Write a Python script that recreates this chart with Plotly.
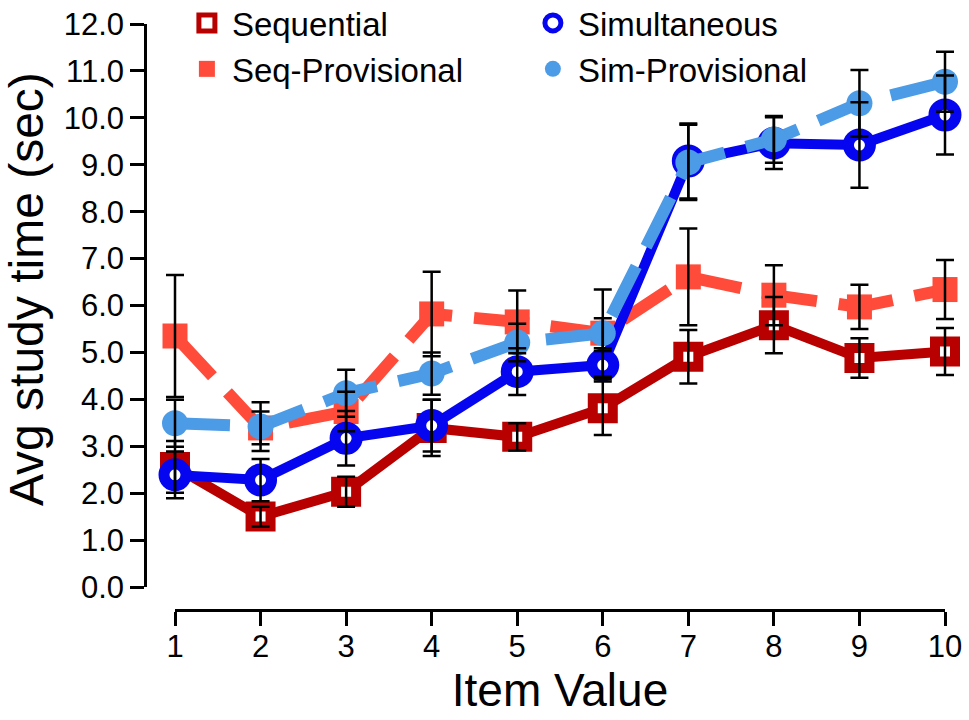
import plotly.graph_objects as go

# ---------------- data ----------------
item_value = [1, 2, 3, 4, 5, 6, 7, 8, 9, 10]

seq_mean = [2.56, 1.50, 2.03, 3.39, 3.20, 3.81, 4.91, 5.58, 4.88, 5.02]
seq_err = [0.55, 0.21, 0.32, 0.60, 0.29, 0.57, 0.57, 0.60, 0.42, 0.50]

sim_mean = [2.39, 2.28, 3.17, 3.44, 4.59, 4.73, 9.08, 9.46, 9.42, 10.06]
sim_err = [0.50, 0.45, 0.58, 0.55, 0.50, 0.30, 0.80, 0.55, 0.91, 0.84]

seqprov_mean = [5.35, 3.39, 3.74, 5.82, 5.65, 5.41, 6.61, 6.22, 5.97, 6.34]
seqprov_err = [1.30, 0.35, 0.42, 0.90, 0.67, 0.93, 1.03, 0.64, 0.47, 0.63]

simprov_mean = [3.49, 3.42, 4.13, 4.55, 5.21, 5.41, 9.05, 9.54, 10.31, 10.77]
simprov_err = [0.50, 0.52, 0.50, 0.45, 0.40, 0.32, 0.80, 0.50, 0.71, 0.64]

y_tick_vals = [0, 1, 2, 3, 4, 5, 6, 7, 8, 9, 10, 11, 12]
y_tick_text = ["%.1f" % v for v in y_tick_vals]
x_tick_vals = item_value

series_names = ["Sequential", "Simultaneous", "Seq-Provisional", "Sim-Provisional"]

# ---------------- styles ----------------
RED = "#B80000"
BLUE = "#0505F0"
ORANGE = "#FF4B3A"
LBLUE = "#4B9BE6"
FONT = "Liberation Sans, Arial, Helvetica, sans-serif"

# plot area: px 145..965 (x), 10..610 (y); axis spans x 1..10 -> px 175..945, y 0..12 -> px 587..24
X_DOMAIN = [30 / 820, 800 / 820]
Y_DOMAIN = [23 / 600, 586 / 600]
XPAD_LO, XPAD_HI = 30 / (770 / 9), 20 / (770 / 9)
YPAD_LO, YPAD_HI = 23 / (563 / 12), 14 / (563 / 12)

fig = go.Figure()

# drawing order (bottom -> top): Sequential, Seq-Prov, Simultaneous, Sim-Prov
fig.add_trace(go.Scatter(
    x=item_value, y=seq_mean, mode="lines+markers", showlegend=False,
    line=dict(color=RED, width=10),
    marker=dict(symbol="square", size=20, color="white", line=dict(color=RED, width=10)),
    cliponaxis=False, hoverinfo="skip"))
fig.add_trace(go.Scatter(
    x=item_value, y=seqprov_mean, mode="lines+markers", showlegend=False,
    line=dict(color=ORANGE, width=12, dash="55px,22px"),
    marker=dict(symbol="square", size=25, color=ORANGE, line=dict(width=0)),
    cliponaxis=False, hoverinfo="skip"))
fig.add_trace(go.Scatter(
    x=item_value, y=sim_mean, mode="lines+markers", showlegend=False,
    line=dict(color=BLUE, width=10),
    marker=dict(symbol="circle", size=22, color="white", line=dict(color=BLUE, width=11)),
    cliponaxis=False, hoverinfo="skip"))
fig.add_trace(go.Scatter(
    x=item_value, y=simprov_mean, mode="lines+markers", showlegend=False,
    line=dict(color=LBLUE, width=12, dash="55px,22px"),
    marker=dict(symbol="circle", size=26, color=LBLUE, line=dict(width=0)),
    cliponaxis=False, hoverinfo="skip"))

# error bars on top of everything
for mean, err in [(seq_mean, seq_err), (seqprov_mean, seqprov_err),
                  (sim_mean, sim_err), (simprov_mean, simprov_err)]:
    fig.add_trace(go.Scatter(
        x=item_value, y=mean, mode="markers", showlegend=False,
        marker=dict(size=1, color="rgba(0,0,0,0)"),
        error_y=dict(type="data", array=err, visible=True, color="black",
                     thickness=2.5, width=9),
        cliponaxis=False, hoverinfo="skip"))

# invisible trace that carries the detached (R-style) display axes
fig.add_trace(go.Scatter(x=[item_value[0]], y=[y_tick_vals[0]], xaxis="x2", yaxis="y2",
                         mode="markers", marker=dict(size=1, color="rgba(0,0,0,0)"),
                         showlegend=False, hoverinfo="skip"))

# legend-only entries (markers only, like the reference)
legend_specs = [
    (series_names[0], dict(symbol="square", size=16, color="white", line=dict(color=RED, width=5))),
    (series_names[1], dict(symbol="circle", size=16, color="white", line=dict(color=BLUE, width=5))),
    (series_names[2], dict(symbol="square", size=16, color=ORANGE, line=dict(width=0))),
    (series_names[3], dict(symbol="circle", size=16, color=LBLUE, line=dict(width=0))),
]
for rank, (name, mk) in enumerate(legend_specs):
    fig.add_trace(go.Scatter(x=[None], y=[None], mode="markers", name=name,
                             marker=mk, legendrank=rank + 1))

axis_common = dict(
    showline=True, linecolor="black", linewidth=2.5,
    ticks="outside", ticklen=14, tickwidth=2.5, tickcolor="black",
    showgrid=False, zeroline=False, automargin=False,
    tickfont=dict(family=FONT, size=31, color="black"),
    anchor="free", position=0,
)

fig.update_layout(
    width=969, height=720,
    margin=dict(l=145, r=4, t=10, b=110, autoexpand=False),
    plot_bgcolor="rgba(0,0,0,0)", paper_bgcolor="white",
    font=dict(family=FONT, color="black"),
    xaxis=dict(domain=[0, 1], range=[item_value[0] - XPAD_LO, item_value[-1] + XPAD_HI],
               visible=False, fixedrange=True),
    yaxis=dict(domain=[0, 1], range=[y_tick_vals[0] - YPAD_LO, y_tick_vals[-1] + YPAD_HI],
               visible=False, fixedrange=True),
    xaxis2=dict(domain=X_DOMAIN, range=[item_value[0], item_value[-1]],
                tickvals=x_tick_vals, ticklabelstandoff=-6,
                title=dict(text="Item Value", font=dict(family=FONT, size=46), standoff=8),
                **axis_common),
    yaxis2=dict(domain=Y_DOMAIN, range=[y_tick_vals[0], y_tick_vals[-1]],
                tickvals=y_tick_vals, ticktext=y_tick_text, ticksuffix="\u2002",
                **axis_common),
    legend=dict(orientation="h", x=0.045, y=1.025, xanchor="left", yanchor="top",
                entrywidth=291, font=dict(family=FONT, size=33, color="black"),
                bgcolor="rgba(0,0,0,0)", traceorder="normal", itemwidth=40),
    annotations=[dict(text="Avg study time (sec)", textangle=-90,
                      xref="paper", yref="paper", x=-0.145, y=0.535,
                      xanchor="center", yanchor="middle", showarrow=False,
                      font=dict(family=FONT, size=48, color="black"))],
    showlegend=True,
)

fig.write_html("out.html")
